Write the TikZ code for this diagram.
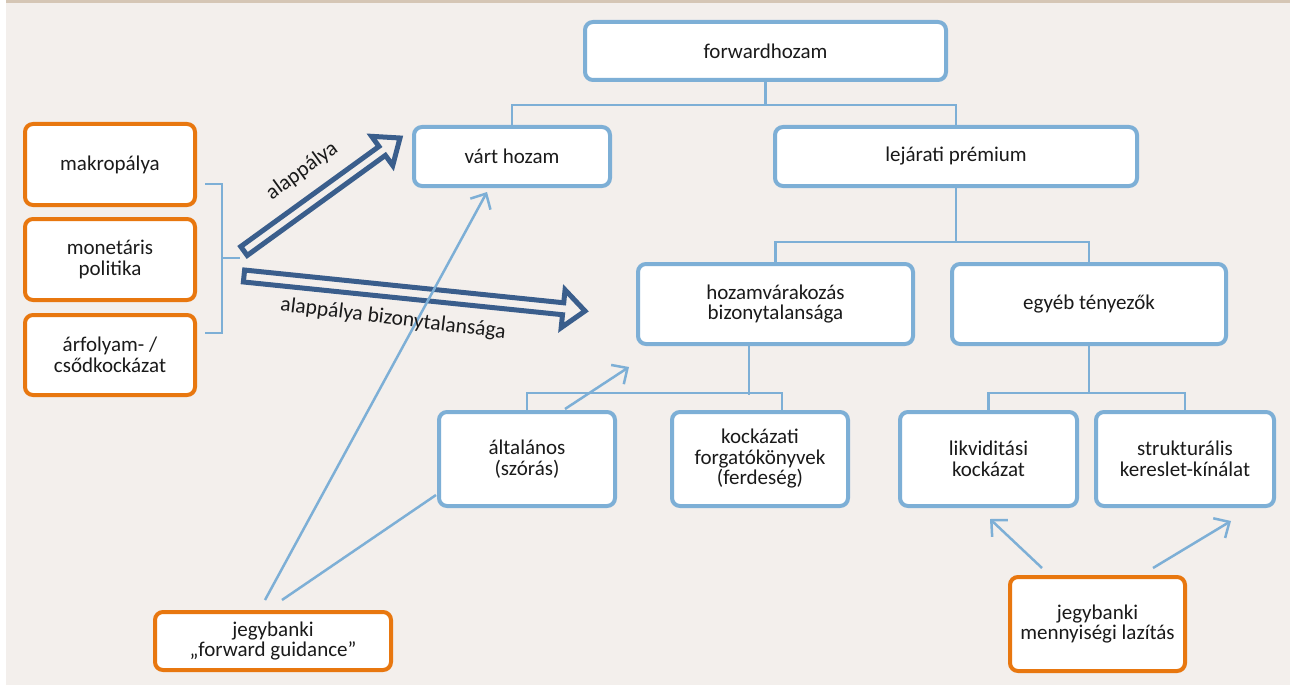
\documentclass[tikz,border=0pt]{standalone}
\usepackage{fontspec}
\setmainfont{Carlito}
\usetikzlibrary{arrows.meta,calc}
\definecolor{lblue}{HTML}{7DAFD6}
\definecolor{orng}{HTML}{E8770F}
\definecolor{dblue}{HTML}{3A5E8C}
\definecolor{bgc}{HTML}{F3EFEC}
\definecolor{tanbar}{HTML}{D5C6B5}
\definecolor{txt}{HTML}{1A1A1A}
\newcommand\blockarr[4]{%
  \coordinate (ba-n) at ($(#2)!22pt!(#1)$);
  \draw[dblue, line width=5pt, line join=miter]
    ($(#1)!#3!90:(#2)$) -- ($(ba-n)!#3!90:(#2)$) -- ($(ba-n)!#4!90:(#2)$) --
    (#2) -- ($(ba-n)!#4!-90:(#2)$) -- ($(ba-n)!#3!-90:(#2)$) --
    ($(#1)!#3!-90:(#2)$) -- cycle;}
\begin{document}
\begin{tikzpicture}[x=1pt,y=-1pt,
  box/.style={draw=lblue, line width=4pt, rounded corners=8pt, fill=white,
    align=center, inner sep=0pt, text=txt, font=\fontsize{21}{20.5}\selectfont},
  obox/.style={box, draw=orng},
  link/.style={draw=lblue, line width=2.5pt},
  farrow/.style={draw=lblue, line width=2.5pt, -{Straight Barb[length=12pt,width=23pt]}},
  lbl/.style={text=txt, font=\fontsize{21.5}{22}\selectfont, inner sep=0pt}]
\useasboundingbox (0,0) rectangle (1290,690);
\fill[white] (0,0) rectangle (1290,690);
\fill[bgc] (6,0) rectangle (1290,685);
\fill[tanbar] (6,0) rectangle (1290,3);

% nodes
\node[box, minimum width=361pt, minimum height=58pt] (fwd) at (765.5,51) {forwardhozam};
\node[box, minimum width=196pt, minimum height=59pt] (vart) at (512,156.5) {várt hozam};
\node[box, minimum width=362pt, minimum height=59pt] (lej) at (956,156.5) {lejárati prémium};
\node[box, minimum width=275pt, minimum height=80pt] (hozb) at (775.5,304) {hozamvárakozás\\bizonytalansága};
\node[box, minimum width=274pt, minimum height=80pt] (egyeb) at (1089,304) {egyéb tényezők};
\node[box, minimum width=176pt, minimum height=94pt] (alt) at (527,459) {általános\\(szórás)};
\node[box, minimum width=176pt, minimum height=94pt] (kock) at (760,459) {kockázati\\forgatókönyvek\\(ferdeség)};
\node[box, minimum width=177pt, minimum height=94pt] (likv) at (988.5,459) {likviditási\\kockázat};
\node[box, minimum width=178pt, minimum height=94pt] (strukt) at (1185,459) {strukturális\\kereslet-kínálat};
\node[obox, minimum width=170pt, minimum height=81pt] (makro) at (110,164.5) {makropálya};
\node[obox, minimum width=170pt, minimum height=81pt] (monet) at (110,259.5) {monetáris\\politika};
\node[obox, minimum width=170pt, minimum height=80pt] (arf) at (110,355) {árfolyam- /\\csődkockázat};
\node[obox, minimum width=236pt, minimum height=58pt] (fg) at (273,641) {jegybanki\\„forward guidance”};
\node[obox, minimum width=175pt, minimum height=94pt] (qe) at (1097.5,624) {jegybanki\\mennyiségi lazítás};

% tree connectors
\draw[link] (fwd.south) -- (fwd.south |- 0,105);
\draw[link] (vart.north) -- (vart.north |- 0,105) -| (lej.north);
\draw[link] (lej.south) -- (lej.south |- 0,242);
\draw[link] (hozb.north) -- (hozb.north |- 0,242) -| (egyeb.north);
\draw[link] ($(hozb.south)+(-26.5,0)$) -- ++(0,49);
\draw[link] (alt.north) -- (alt.north |- 0,393) -| ($(kock.north)+(22,0)$);
\draw[link] (egyeb.south) -- (egyeb.south |- 0,393);
\draw[link] (likv.north) -- (likv.north |- 0,393) -| (strukt.north);

% bracket
\coordinate (brt) at (205,184);
\coordinate (brb) at (205,333);
\coordinate (brm) at (240,258);
\draw[link] (brt) -| (222,333) -- (brb);
\draw[link] (222,258) -- (brm);

% block arrows
\coordinate (a1t) at (244,251);
\coordinate (a1h) at (400,138);
\coordinate (a2t) at (244,276);
\coordinate (a2h) at (585,311);
\blockarr{a1t}{a1h}{5.5pt}{18pt}
\blockarr{a2t}{a2h}{6pt}{19pt}

% thin arrows
\coordinate (g1) at (265,600);
\coordinate (g1e) at (487,192);
\coordinate (g2) at (282,600);
\coordinate (g2e) at (436,495);
\coordinate (s1) at (565,409);
\coordinate (s1e) at (629,367);
\coordinate (q1) at (1042,568);
\coordinate (q1e) at (990,519);
\coordinate (q2) at (1153,568);
\coordinate (q2e) at (1231,521);
\draw[farrow] (g1) -- (g1e);
\draw[link] (g2) -- (g2e);
\draw[farrow] (s1) -- (s1e);
\draw[farrow] (q1) -- (q1e);
\draw[farrow] (q2) -- (q2e);

% labels
\node[lbl, rotate=36] (l1) at (302,171) {alappálya};
\node[lbl, rotate=-7] (l2) at (393,319) {alappálya bizonytalansága};
\end{tikzpicture}
\end{document}
